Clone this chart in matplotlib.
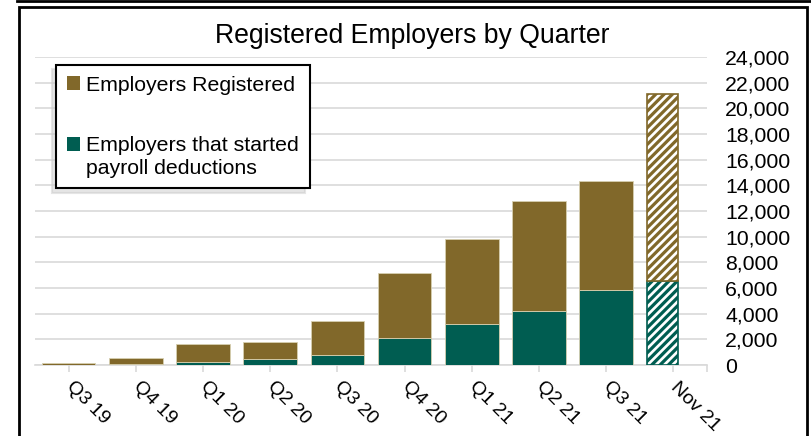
import matplotlib.pyplot as plt
from matplotlib.patches import Patch, Rectangle
from matplotlib.lines import Line2D
from matplotlib.legend_handler import HandlerPatch

plt.rcParams['font.family'] = ['Liberation Sans', 'DejaVu Sans']
plt.rcParams['hatch.linewidth'] = 2.3

# Data
quarters = ['Q3 19', 'Q4 19', 'Q1 20', 'Q2 20', 'Q3 20',
            'Q4 20', 'Q1 21', 'Q2 21', 'Q3 21', 'Nov 21']
registered = [160, 520, 1610, 1790, 3400, 7160, 9830, 12760, 14320, 21090]
payroll = [20, 80, 210, 470, 780, 2130, 3190, 4200, 5840, 6540]

brown = '#81682A'
green = '#005D51'
W, H = 811, 436

fig = plt.figure(figsize=(W / 100, H / 100), dpi=100)
ax = fig.add_axes([35 / W, 1 - 365 / H, 672 / W, 308 / H])

n = len(quarters)
x = list(range(n))
# brown part sits on top of green part, total height = registered
upper = [r - p for r, p in zip(registered, payroll)]

# solid quarters
ax.bar(x[:-1], payroll[:-1], width=0.8, color=green, edgecolor='#d6cfb0', linewidth=0.6, zorder=3)
ax.bar(x[:-1], upper[:-1], bottom=payroll[:-1], width=0.8, color=brown,
       edgecolor='#d6cfb0', linewidth=0.6, zorder=3)
# partial month (hatched, narrower)
ax.bar(x[-1] - 0.39, payroll[-1], width=0.455, align='edge', color='white',
       edgecolor=green, hatch='////', linewidth=1.2, zorder=3)
ax.bar(x[-1] - 0.39, upper[-1], bottom=payroll[-1], width=0.455, align='edge',
       color='white', edgecolor=brown, hatch='////', linewidth=1.2, zorder=3)

ax.set_xlim(-0.5, n - 0.5)
ax.set_ylim(0, 24000)
ax.set_yticks(range(0, 24001, 2000))
ax.set_yticklabels([f'{v:,}' for v in range(0, 24001, 2000)])
ax.yaxis.tick_right()
ax.tick_params(axis='y', length=0, pad=13, labelsize=15.3)
ax.yaxis.grid(True, color='#d9d9d9', linewidth=1.2, zorder=0)
ax.set_axisbelow(True)

ax.set_xticks(x)
ax.set_xticklabels(quarters, rotation=-45, rotation_mode='anchor',
                   ha='left', va='center', fontsize=14)
ax.set_xticks([n - 0.5], minor=True)
ax.tick_params(axis='x', which='both', length=5, color='#d9d9d9', width=1.2, pad=9)

for s in ['top', 'left', 'right']:
    ax.spines[s].set_visible(False)
ax.spines['bottom'].set_color('#d9d9d9')
ax.spines['bottom'].set_linewidth(1.2)

fig.text(412 / W, 1 - 36 / H, 'Registered Employers by Quarter',
         ha='center', va='center', fontsize=19.2)


# marker of the two-line entry sits next to its first line
def top_square(legend, orig_handle, xdescent, ydescent, width, height, fontsize):
    return Rectangle((-xdescent, -ydescent + 0.62 * fontsize), width, height)


h1 = Patch(facecolor=brown, edgecolor='none')
h2 = Patch(facecolor=green, edgecolor='none')
leg = fig.legend([h1, h2], ['Employers Registered', 'Employers that started\npayroll deductions'],
                 loc='upper left', bbox_to_anchor=(56 / W, 1 - 65 / H),
                 bbox_transform=fig.transFigure, borderaxespad=0,
                 fontsize=15.3, handlelength=0.62, handleheight=0.62,
                 handletextpad=0.3, labelspacing=1.95, borderpad=0.5,
                 handler_map={h2: HandlerPatch(patch_func=top_square)},
                 fancybox=False, edgecolor='black', framealpha=1,
                 shadow={'ox': -3, 'oy': -3, 'color': '0.8', 'alpha': 0.5})
leg.get_frame().set_linewidth(1.5)
for t in leg.get_texts():
    t.set_linespacing(1.25)

# outer frame lines
fig.add_artist(Line2D([17 / W, 810 / W], [1 - 1.5 / H, 1 - 1.5 / H],
                      color='black', linewidth=2, transform=fig.transFigure))
fig.add_artist(Rectangle((18.5 / W, -0.05), (807 - 18.5) / W, 1.05 - 7 / H,
                         fill=False, edgecolor='black', linewidth=2,
                         transform=fig.transFigure))

fig.savefig('out.png', dpi=100)
